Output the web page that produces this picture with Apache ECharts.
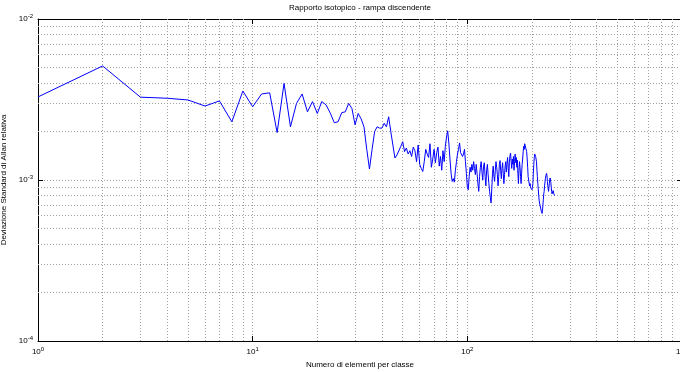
<!DOCTYPE html>
<html>
<head>
<meta charset="utf-8">
<script src="https://cdn.jsdelivr.net/npm/echarts@6/dist/echarts.min.js"></script>
<style>
  html, body { margin: 0; padding: 0; background: #fff; }
  #chart { width: 680px; height: 372px; }
</style>
</head>
<body>
<div id="chart"></div>
<script>
// numero di elementi per classe: 1..256
var nElem = [];
for (var i = 1; i <= 256; i++) nElem.push(i);

// deviazione standard di Allan relativa, in unita di 1e-3
var devAllan_e3 = [
  3.28, 5.11, 3.27, 3.22, 3.14, 2.88, 3.10, 2.30, 3.57, 2.85,
  3.42, 3.48, 1.97, 3.98, 2.14, 2.99, 3.42, 2.65, 3.07, 2.59,
  3.07, 2.92, 2.60, 2.27, 2.30, 2.62, 2.65, 2.99, 2.78, 2.20,
  2.59, 2.40, 2.14, 1.55, 1.17, 1.55, 2.00, 2.14, 2.10, 2.10,
  2.25, 2.14, 2.47, 2.00, 1.65, 1.37, 1.43, 1.46, 1.62, 1.73,
  1.50, 1.58, 1.45, 1.52, 1.40, 1.60, 1.52, 1.30, 1.65, 1.25,
  1.18, 1.13, 1.30, 1.55, 1.45, 1.38, 1.68, 1.20, 1.35, 1.55,
  1.28, 1.48, 1.60, 1.22, 1.40, 1.15, 1.52, 1.30, 1.62, 1.85,
  2.02, 1.70, 1.35, 1.10, 0.98, 1.02, 0.97, 1.15, 1.30, 1.45,
  1.55, 1.70, 1.48, 1.52, 1.40, 1.45, 1.55, 1.30, 1.10, 0.90,
  0.87, 1.05, 1.20, 1.12, 1.25, 1.15, 1.30, 1.18, 1.08, 1.25,
  1.10, 0.95, 0.85, 1.05, 1.20, 1.30, 1.12, 1.00, 1.22, 1.28,
  1.05, 0.92, 1.15, 1.25, 1.08, 0.95, 0.85, 0.78, 0.72, 0.88,
  1.10, 1.22, 1.05, 0.98, 1.15, 1.30, 1.20, 1.08, 0.92, 1.05,
  1.25, 1.32, 1.15, 1.02, 1.18, 1.28, 1.10, 0.95, 1.08, 1.22,
  1.30, 1.12, 1.25, 1.38, 1.20, 1.05, 1.28, 1.42, 1.47, 1.30,
  1.18, 1.35, 1.25, 1.40, 1.15, 1.30, 1.45, 1.28, 1.38, 1.20,
  1.33, 1.10, 0.95, 1.15, 1.30, 1.20, 1.05, 0.95, 1.10, 1.25,
  1.35, 1.50, 1.62, 1.55, 1.68, 1.72, 1.65, 1.70, 1.50, 1.35,
  1.20, 1.05, 1.00, 0.98, 0.92, 0.95, 0.90, 0.88, 0.92, 0.87,
  0.90, 0.95, 1.10, 1.25, 1.38, 1.45, 1.47, 1.40, 1.42, 1.30,
  1.15, 1.05, 0.95, 0.88, 0.80, 0.75, 0.72, 0.70, 0.68, 0.66,
  0.64, 0.63, 0.62, 0.65, 0.70, 0.76, 0.82, 0.85, 0.92, 0.97,
  1.02, 1.06, 1.08, 1.10, 1.06, 0.98, 0.92, 0.88, 0.85, 0.90,
  0.95, 1.00, 1.03, 1.00, 0.96, 0.90, 0.85, 0.82, 0.80, 0.83,
  0.86, 0.84, 0.82, 0.81, 0.80, 0.81
];

// griglia secondaria (stile matlab)
var xMinor = [2, 3, 4, 5, 6, 7, 8, 9, 20, 30, 40, 50, 60, 70, 80, 90, 200, 300, 400, 500, 600, 700, 800, 900];
var yMinor = [2e-4, 3e-4, 4e-4, 5e-4, 6e-4, 7e-4, 8e-4, 9e-4, 2e-3, 3e-3, 4e-3, 5e-3, 6e-3, 7e-3, 8e-3, 9e-3];
var xRange = [1, 1000];
var yRange = [1e-4, 1e-2];

var font = 'Liberation Sans';
var ink = '#000';
var gridCol = '#a0a0a0';

var chart = echarts.init(document.getElementById('chart'), null, { renderer: 'canvas' });

function powLabel(v) {
  var e = Math.round(Math.log10(v));
  return '{b|10}{s|' + e + '}';
}
var richLab = {
  b: { fontFamily: font, fontSize: 8, color: ink },
  s: { fontFamily: font, fontSize: 6, color: ink, verticalAlign: 'bottom', padding: [0, 0, 6, 0] }
};

var lineData = nElem.map(function (n, k) { return [n, devAllan_e3[k] * 1e-3]; });

var gridStyle = { color: gridCol, type: [1, 2], width: 1 };

var minorLines = xMinor.map(function (v) {
  return [{ coord: [v, yRange[0]] }, { coord: [v, yRange[1]] }];
}).concat(yMinor.map(function (v) {
  return [{ coord: [xRange[0], v] }, { coord: [xRange[1], v] }];
}));

chart.setOption({
  backgroundColor: '#fff',
  animation: false,
  textStyle: { fontFamily: font },
  grid: { left: 38, top: 19, width: 644, height: 322, containLabel: false, outerBoundsMode: 'none' },
  graphic: [{
    type: 'text', x: 360, y: 4,
    style: { text: 'Rapporto isotopico - rampa discendente', fontFamily: font, fontSize: 8, fill: ink, align: 'center' }
  }],
  xAxis: [
    {
      type: 'log', logBase: 10, min: xRange[0], max: xRange[1], position: 'bottom',
      name: 'Numero di elementi per classe', nameLocation: 'middle', nameGap: 20,
      nameTextStyle: { fontFamily: font, fontSize: 8, color: ink },
      axisLine: { lineStyle: { color: ink, width: 1 } },
      axisTick: { inside: true, length: 5, lineStyle: { color: ink } },
      axisLabel: { formatter: powLabel, rich: richLab, margin: 5 },
      splitLine: { show: true, lineStyle: gridStyle }
    },
    {
      type: 'log', logBase: 10, min: xRange[0], max: xRange[1], position: 'top',
      axisLine: { lineStyle: { color: ink, width: 1 } },
      axisTick: { inside: true, length: 5, lineStyle: { color: ink } },
      axisLabel: { show: false },
      splitLine: { show: false }
    }
  ],
  yAxis: [
    {
      type: 'log', logBase: 10, min: yRange[0], max: yRange[1], position: 'left',
      name: 'Deviazione Standard di Allan relativa', nameLocation: 'middle', nameGap: 26, nameRotate: 90,
      nameTextStyle: { fontFamily: font, fontSize: 8, color: ink },
      axisLine: { show: true, lineStyle: { color: ink, width: 1 } },
      axisTick: { show: true, inside: true, length: 5, lineStyle: { color: ink } },
      axisLabel: { formatter: powLabel, rich: richLab, margin: 5 },
      splitLine: { show: true, lineStyle: gridStyle }
    },
    {
      type: 'log', logBase: 10, min: yRange[0], max: yRange[1], position: 'right',
      axisLine: { show: true, lineStyle: { color: ink } },
      axisTick: { show: true, inside: true, length: 5 },
      axisLabel: { show: false },
      splitLine: { show: false }
    }
  ],
  series: [
    {
      name: 'Allan', type: 'line', data: lineData, showSymbol: false, symbol: 'none',
      lineStyle: { color: '#0000ff', width: 1 }, z: 5,
      markLine: {
        silent: true, symbol: 'none', label: { show: false },
        lineStyle: gridStyle, z: 1,
        data: minorLines
      }
    }
  ]
});
</script>
</body>
</html>
